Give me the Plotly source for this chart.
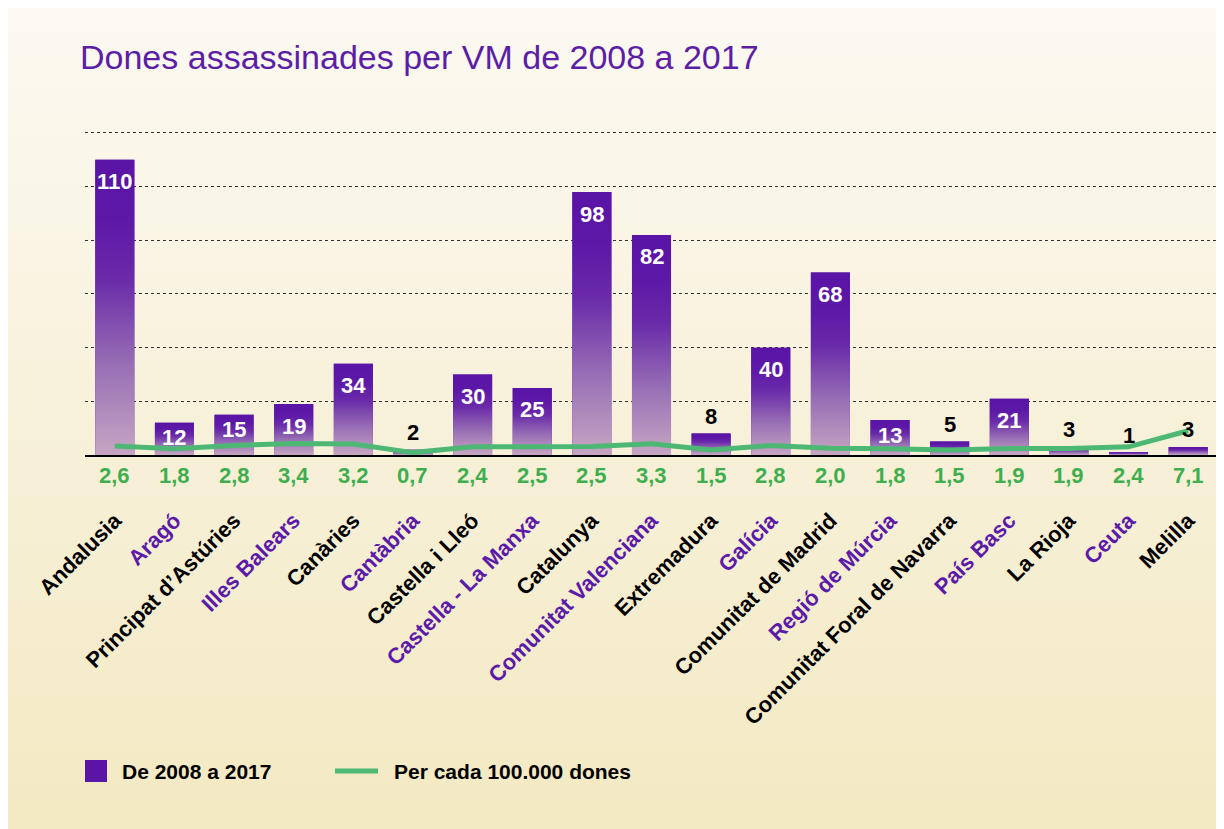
import plotly.graph_objects as go

# ---------------- data ----------------
regions = ["Andalusia", "Aragó", "Principat d’Astúries", "Illes Balears", "Canàries",
           "Cantàbria", "Castella i Lleó", "Castella - La Manxa", "Catalunya",
           "Comunitat Valenciana", "Extremadura", "Galícia", "Comunitat de Madrid",
           "Regió de Múrcia", "Comunitat Foral de Navarra", "País Basc", "La Rioja",
           "Ceuta", "Melilla"]
victims = [110, 12, 15, 19, 34, 2, 30, 25, 98, 82, 8, 40, 68, 13, 5, 21, 3, 1, 3]
per_100k = [2.6, 1.8, 2.8, 3.4, 3.2, 0.7, 2.4, 2.5, 2.5, 3.3, 1.5, 2.8, 2.0, 1.8, 1.5, 1.9, 1.9, 2.4, 7.1]

title = "Dones assassinades per VM de 2008 a 2017"
bar_name = "De 2008 a 2017"
line_name = "Per cada 100.000 dones"

# ---------------- style ----------------
# the page body adds an 8px offset, so the figure is 8px smaller than the window
W, H = 1216, 821
PURPLE = "#5a14a6"
LABEL_PURPLE = "#5b1aa8"
GREEN_LINE = "#4cb874"
GREEN_TXT = "#3fae4f"
SANS = "Liberation Sans, Arial, Helvetica, sans-serif"
BAR_W = 0.655

Y_MAX = 121  # a little headroom so the top (120) grid line is drawn
plot_l, plot_r = 77, 1210
plot_b = 447
plot_t = plot_b - 322 * Y_MAX / 120

x_idx = list(range(len(regions)))

fig = go.Figure()

# background panel with vertical gradient (decoration)
fig.add_trace(go.Scatter(
    x=[0, 1, 1, 0, 0], y=[0, 0, 1, 1, 0], xaxis="x", yaxis="y",
    mode="lines", line=dict(width=0), fill="toself",
    fillgradient=dict(type="vertical", colorscale=[[0, "#f3e9c2"], [1, "#fcf9f2"]]),
    hoverinfo="skip", showlegend=False))

# bars (data)
fig.add_trace(go.Bar(
    x=x_idx, y=victims, xaxis="x2", yaxis="y2", width=BAR_W,
    marker=dict(color=PURPLE, line=dict(width=0)), name=bar_name,
    hovertemplate="%{y}<extra></extra>", showlegend=False))

# gradient overlay for each bar
bar_scale = [[0, "#c6a6c3"], [0.3, "#9870b5"], [0.6, "#6a2aa9"], [0.8, "#5c18a7"], [1, PURPLE]]
for i, v in zip(x_idx, victims):
    fig.add_trace(go.Scatter(
        x=[i - BAR_W / 2, i + BAR_W / 2, i + BAR_W / 2, i - BAR_W / 2, i - BAR_W / 2],
        y=[0, 0, v, v, 0], xaxis="x2", yaxis="y2",
        mode="lines", line=dict(width=0), fill="toself",
        fillgradient=dict(type="vertical", colorscale=bar_scale),
        hoverinfo="skip", showlegend=False))

# line (rate per 100,000 women)
fig.add_trace(go.Scatter(
    x=x_idx, y=per_100k, xaxis="x2", yaxis="y3", mode="lines",
    line=dict(color=GREEN_LINE, width=5), name=line_name,
    hovertemplate="%{y}<extra></extra>", showlegend=False))

annotations = []
for i, v in zip(x_idx, victims):
    if v >= 10:
        shift = -15 if v < 16 else -22
        annotations.append(dict(x=i, y=v, xref="x2", yref="y2", text=str(v), showarrow=False,
                                yshift=shift, font=dict(family=SANS, size=22, color="white", weight="bold")))
    else:
        annotations.append(dict(x=i, y=v, xref="x2", yref="y2", text=str(v), showarrow=False,
                                yshift=17, font=dict(family=SANS, size=22, color="black", weight="bold")))
for i, r in zip(x_idx, per_100k):
    annotations.append(dict(x=i, y=0, xref="x2", yref="y2", text=f"{r:.1f}".replace(".", ","),
                            showarrow=False, yshift=-21,
                            font=dict(family=SANS, size=22, color=GREEN_TXT, weight="bold")))

# custom legend (larger swatch like the original)
def px_x(v):
    return v / W

def px_y(v):
    return 1 - v / H

leg_y = 763
shapes = [
    dict(type="rect", xref="paper", yref="paper", x0=px_x(77), x1=px_x(99),
         y0=px_y(leg_y + 11), y1=px_y(leg_y - 11), fillcolor=PURPLE, line=dict(width=0)),
    dict(type="line", xref="paper", yref="paper", x0=px_x(327), x1=px_x(370),
         y0=px_y(leg_y), y1=px_y(leg_y), line=dict(color=GREEN_LINE, width=5)),
]
annotations.append(dict(x=px_x(112), y=px_y(leg_y), xref="paper", yref="paper", text=bar_name,
                        showarrow=False, xanchor="left", yanchor="middle",
                        font=dict(family=SANS, size=21, color="black", weight="bold")))
annotations.append(dict(x=px_x(384), y=px_y(leg_y), xref="paper", yref="paper", text=line_name,
                        showarrow=False, xanchor="left", yanchor="middle",
                        font=dict(family=SANS, size=21, color="black", weight="bold")))

ticktext = [f'<span style="color:{"black" if k % 2 == 0 else LABEL_PURPLE}">{n}</span>'
            for k, n in enumerate(regions)]

fig.update_layout(
    width=W, height=H,
    margin=dict(l=0, r=0, t=0, b=0, pad=0, autoexpand=False),
    paper_bgcolor="white", plot_bgcolor="rgba(0,0,0,0)",
    showlegend=False,
    title=dict(text=title, x=px_x(72), xanchor="left", y=px_y(49), yanchor="middle",
               font=dict(family=SANS, size=34, color="#5b1ea5"), automargin=False),
    xaxis=dict(domain=[0, 1], range=[0, 1], visible=False, fixedrange=True, automargin=False),
    yaxis=dict(domain=[0, 1], range=[0, 1], visible=False, fixedrange=True, automargin=False),
    xaxis2=dict(domain=[plot_l / W, plot_r / W], anchor="y2", range=[-0.5, len(regions) - 0.5],
                tickmode="array", tickvals=x_idx, ticktext=ticktext, tickangle=-45,
                tickfont=dict(family=SANS, size=22, color="black", weight="bold"),
                ticklabelstandoff=42, showgrid=False, zeroline=False, automargin=False,
                showline=True, linecolor="black", linewidth=2, ticks=""),
    yaxis2=dict(domain=[(H - plot_b) / H, (H - plot_t) / H], anchor="x2", range=[0, Y_MAX],
                tick0=0, dtick=20, showticklabels=False, showgrid=True, gridcolor="#333333",
                griddash="dot", gridwidth=1, zeroline=False, showline=False, automargin=False),
    yaxis3=dict(overlaying="y2", range=[0, 95], visible=False, showgrid=False, automargin=False),
    annotations=annotations,
    shapes=shapes,
)

fig.write_html("out.html")
